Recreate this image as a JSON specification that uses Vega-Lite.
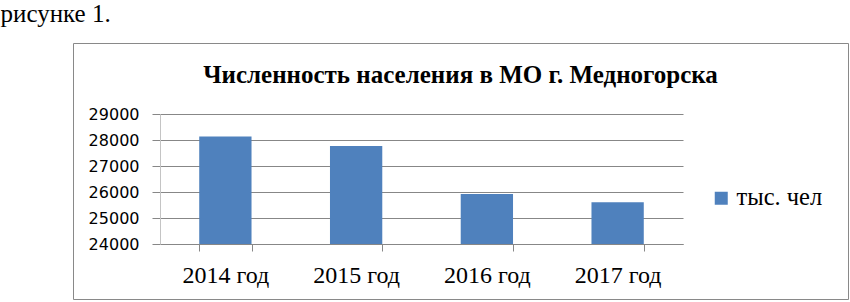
{
  "$schema": "https://vega.github.io/schema/vega-lite/v6.json",
  "width": 775,
  "height": 256,
  "autosize": "none",
  "padding": {"left": 73, "top": 43, "right": 2, "bottom": 3},
  "background": "white",
  "title": {
    "text": "Численность населения в МО  г. Медногорска",
    "anchor": "middle",
    "frame": "group",
    "offset": -87,
    "font": "Liberation Serif",
    "fontSize": 25,
    "fontWeight": "bold",
    "color": "#000000"
  },
  "data": {
    "values": [
      {"year": "2014 год", "value": 28130, "series": "тыс. чел"},
      {"year": "2015 год", "value": 27770, "series": "тыс. чел"},
      {"year": "2016 год", "value": 25920, "series": "тыс. чел"},
      {"year": "2017 год", "value": 25610, "series": "тыс. чел"}
    ]
  },
  "mark": {"type": "bar", "strokeWidth": 0},
  "encoding": {
    "x": {
      "field": "year",
      "type": "nominal",
      "sort": null,
      "scale": {"range": [87, 610], "paddingInner": 0.6, "paddingOuter": 0.3},
      "axis": {
        "title": null,
        "orient": "bottom",
        "offset": -55,
        "labelAngle": 0,
        "labelFont": "Liberation Serif",
        "labelFontSize": 24,
        "labelColor": "#000000",
        "labelPadding": 12,
        "tickBand": "extent",
        "tickSize": 7,
        "tickColor": "#878787",
        "domainColor": "#878787",
        "grid": false
      }
    },
    "y": {
      "field": "value",
      "type": "quantitative",
      "scale": {"domain": [24000, 29000], "range": [201, 71], "zero": false, "nice": false},
      "axis": {
        "orient": "left",
        "offset": -87,
        "values": [24000, 25000, 26000, 27000, 28000, 29000],
        "format": "d",
        "labelFont": "DejaVu Sans",
        "labelFontSize": 16,
        "labelColor": "#000000",
        "labelPadding": 13,
        "tickSize": 8,
        "tickColor": "#878787",
        "domainColor": "#c4c4c4",
        "grid": true,
        "gridColor": "#878787",
        "gridOpacity": 1,
        "title": "рисунке 1.",
        "titleAngle": 0,
        "titleAlign": "left",
        "titleBaseline": "alphabetic",
        "titleX": -160,
        "titleY": -22,
        "titleFont": "Liberation Serif",
        "titleFontSize": 25,
        "titleFontWeight": "normal",
        "titleColor": "#000000"
      }
    },
    "y2": {"datum": 24000},
    "color": {
      "field": "series",
      "type": "nominal",
      "scale": {"range": ["#4f81bd"]},
      "legend": {
        "title": null,
        "orient": "none",
        "legendX": 636,
        "legendY": 143,
        "padding": 0,
        "symbolType": "square",
        "symbolSize": 169,
        "symbolStrokeWidth": 0,
        "labelOffset": 3,
        "labelFont": "Liberation Serif",
        "labelFontSize": 24.5,
        "labelColor": "#000000"
      }
    }
  },
  "config": {
    "view": {"stroke": "#898989", "strokeWidth": 1},
    "axis": {"gridOpacity": 1}
  }
}
